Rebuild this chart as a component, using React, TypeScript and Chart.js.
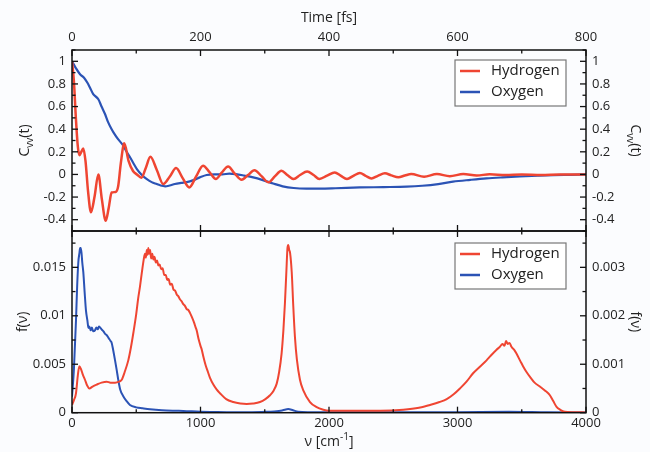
import React, { useEffect, useRef } from 'react';
import { Chart, registerables } from 'chart.js';
Chart.register(...registerables);

// ---------- axis ticks ----------
const TIME_TICKS = [0, 200, 400, 600, 800];
const TIME_LABELS = ['0', '200', '400', '600', '800'];
const TIME_MINOR = [0, 100, 200, 300, 400, 500, 600, 700, 800];
const CVV_TICKS = [-0.4, -0.2, 0, 0.2, 0.4, 0.6, 0.8, 1];
const CVV_LABELS = ['-0.4', '-0.2', '0', '0.2', '0.4', '0.6', '0.8', '1'];
const CVV_MINOR = [-0.5, -0.4, -0.3, -0.2, -0.1, 0, 0.1, 0.2, 0.3, 0.4, 0.5, 0.6, 0.7, 0.8, 0.9, 1.0, 1.1];
const NU_TICKS = [0, 1000, 2000, 3000, 4000];
const NU_LABELS = ['0', '1000', '2000', '3000', '4000'];
const NU_MINOR = [0, 500, 1000, 1500, 2000, 2500, 3000, 3500, 4000];
const FH_TICKS = [0, 0.005, 0.01, 0.015];
const FH_LABELS = ['0', '0.005', '0.01', '0.015'];
const FH_MINOR = [0, 0.0025, 0.005, 0.0075, 0.01, 0.0125, 0.015, 0.0175];
const FO_TICKS = [0, 0.001, 0.002, 0.003];
const FO_LABELS = ['0', '0.001', '0.002', '0.003'];
const FO_MINOR = [0, 0.0005, 0.001, 0.0015, 0.002, 0.0025, 0.003, 0.0035];

const SERIES = ['Hydrogen', 'Oxygen'];

// ---------- velocity autocorrelation (top) ----------
const H_T = [0, 3, 6, 9, 11.5, 14.5, 17.5, 21, 25, 29.5, 35, 41, 46.5, 52.5, 57, 61.7, 68, 72, 76, 81.4, 88, 95, 101, 108, 115, 122, 132, 142, 152, 162, 172, 182.5, 193, 204, 214, 224, 233, 243, 253, 264, 274, 284, 295, 306, 316, 326, 335, 345, 355, 366, 376, 385, 397, 409, 418, 428, 438, 448, 457, 466, 476, 487, 497, 508, 518, 528, 548, 568, 588, 609, 630, 650, 675, 700, 730, 760, 800];
const H_C = [1.0, 0.82, 0.5, 0.25, 0.17, 0.2, 0.23, 0.12, -0.15, -0.335, -0.2, 0.0, -0.22, -0.41, -0.3, -0.16, -0.155, -0.1, 0.1, 0.275, 0.12, 0.03, 0.0, -0.03, 0.06, 0.156, 0.04, -0.085, -0.02, 0.056, -0.03, -0.115, -0.02, 0.077, 0.02, -0.04, 0.015, 0.07, 0.01, -0.047, -0.005, 0.038, -0.015, -0.07, -0.015, 0.033, -0.005, -0.04, -0.005, 0.026, -0.005, -0.04, -0.01, 0.018, -0.01, -0.04, -0.012, 0.012, -0.012, -0.035, -0.012, 0.01, -0.008, -0.025, -0.01, 0.003, -0.02, 0.003, -0.015, 0.003, -0.01, 0.002, -0.006, 0.0, -0.004, 0.0, 0.0];
const O_T = [0, 6, 12.5, 18.7, 24, 28, 33, 41, 46, 51.7, 56, 61.7, 67, 72, 80, 85, 90.5, 96, 101, 108, 116, 124, 132, 138, 145, 152, 160, 170, 178.5, 189, 199, 209.6, 222, 234, 245, 255, 268, 282, 297, 313, 328, 345, 365, 386, 410, 448, 485, 521, 545, 570, 593, 620, 645, 670, 697, 725, 749, 775, 800];
const O_C = [1.0, 0.94, 0.885, 0.855, 0.81, 0.767, 0.71, 0.665, 0.6, 0.53, 0.465, 0.4, 0.35, 0.31, 0.253, 0.2, 0.15, 0.095, 0.048, 0.0, -0.04, -0.068, -0.085, -0.098, -0.105, -0.098, -0.085, -0.075, -0.068, -0.05, -0.026, -0.005, 0.0, 0.0, 0.008, 0.003, -0.01, -0.026, -0.05, -0.08, -0.105, -0.12, -0.125, -0.125, -0.122, -0.115, -0.112, -0.108, -0.1, -0.085, -0.064, -0.048, -0.035, -0.026, -0.018, -0.011, -0.006, -0.003, 0.0];

// ---------- vibrational spectra (bottom) ----------
const H_NU = [0, 15, 31, 45, 57, 70, 85, 101, 118, 135, 160, 192, 230, 270, 300, 335, 365, 387, 410, 438, 458, 477, 500, 515, 529, 545, 558, 568, 575, 582, 588, 594, 600, 608, 616, 625, 633, 642, 652, 662, 672, 682, 694, 705, 718, 730, 741, 752, 764, 776, 790, 802, 815, 828, 840, 853, 866, 880, 892, 905, 918, 935, 950, 962, 970, 985, 1000, 1010, 1022, 1040, 1058, 1074, 1100, 1125, 1152, 1200, 1255, 1310, 1359, 1410, 1463, 1505, 1541, 1570, 1593, 1612, 1631, 1645, 1657, 1668, 1677, 1683, 1690, 1697, 1710, 1722, 1735, 1750, 1774, 1800, 1852, 1900, 1956, 2000, 2200, 2400, 2578, 2700, 2786, 2860, 2916, 2970, 3019, 3070, 3123, 3170, 3226, 3260, 3304, 3330, 3350, 3365, 3378, 3390, 3405, 3420, 3440, 3459, 3490, 3510, 3537, 3570, 3600, 3641, 3680, 3719, 3745, 3771, 3800, 3835, 3900, 4000];
const H_F = [0.0008, 0.0013, 0.002, 0.0038, 0.0048, 0.0045, 0.0039, 0.0034, 0.0028, 0.0025, 0.0027, 0.0029, 0.0031, 0.0032, 0.0031, 0.0031, 0.0032, 0.0034, 0.0042, 0.0054, 0.0067, 0.0082, 0.0102, 0.0118, 0.013, 0.0146, 0.0158, 0.0164, 0.016, 0.0168, 0.0163, 0.017, 0.0164, 0.0168, 0.0159, 0.0164, 0.0158, 0.0161, 0.0155, 0.0157, 0.0152, 0.0153, 0.0148, 0.0149, 0.0142, 0.0142, 0.0137, 0.0138, 0.0132, 0.0133, 0.0127, 0.0126, 0.0122, 0.012, 0.0117, 0.0115, 0.0112, 0.011, 0.0107, 0.0106, 0.0103, 0.0098, 0.0093, 0.0088, 0.0085, 0.0076, 0.0069, 0.0065, 0.0058, 0.0049, 0.0042, 0.0036, 0.0029, 0.0024, 0.002, 0.0014, 0.0011, 0.00095, 0.0009, 0.00095, 0.0011, 0.0014, 0.0018, 0.0023, 0.003, 0.0042, 0.0061, 0.0085, 0.0113, 0.0145, 0.017, 0.0173, 0.0168, 0.0165, 0.0145, 0.011, 0.0078, 0.0055, 0.0034, 0.0023, 0.0011, 0.0006, 0.0003, 0.0002, 0.0002, 0.0002, 0.0003, 0.0005, 0.0008, 0.0011, 0.0014, 0.0019, 0.0025, 0.0032, 0.0041, 0.0047, 0.0054, 0.0059, 0.0065, 0.0068, 0.0071, 0.0069, 0.0074, 0.0071, 0.0072, 0.0068, 0.0065, 0.0061, 0.0053, 0.0048, 0.0042, 0.0036, 0.0031, 0.0027, 0.0023, 0.0018, 0.0012, 0.0006, 0.0003, 0.0001, 0.00005, 0.00003];
const O_NU = [0, 15, 31, 40, 49, 58, 63, 68, 74, 80, 88, 98, 109, 120, 128, 135, 145, 155, 165, 179, 190, 200, 210, 218, 230, 245, 260, 270, 285, 300, 309, 320, 335, 348, 360, 375, 399, 425, 451, 500, 550, 607, 700, 800, 866, 1000, 1100, 1255, 1400, 1530, 1593, 1640, 1683, 1720, 1760, 1850, 2000, 2500, 3000, 3400, 3700, 4000];
const O_F = [0.00033, 0.0009, 0.0019, 0.0026, 0.0031, 0.0033, 0.0034, 0.0034, 0.0033, 0.0031, 0.0029, 0.0025, 0.0021, 0.0019, 0.00175, 0.00178, 0.0017, 0.00176, 0.00168, 0.0017, 0.00176, 0.00172, 0.00178, 0.00176, 0.00172, 0.00168, 0.00162, 0.0016, 0.00154, 0.00148, 0.00144, 0.0013, 0.00108, 0.00088, 0.00068, 0.00048, 0.00034, 0.00024, 0.00016, 0.00011, 0.00009, 0.00007, 0.00005, 0.00004, 0.000036, 0.00002, 0.000015, 0.00001, 0.00001, 0.00002, 0.000028, 0.00005, 0.000076, 0.00005, 0.00002, 0.00001, 0.000008, 0.000008, 0.00001, 0.00002, 0.00001, 0.000005];

const RED = '#ef4532';
const BLUE = '#2b53b5';
const FONT = "'Open Sans', 'DejaVu Sans', sans-serif";
const TEXT = '#222';

type Part = { t: string; s?: 'sub' | 'sup' };

function drawRich(ctx: CanvasRenderingContext2D, parts: Part[], x: number, y: number, rot: number, size: number) {
  ctx.save();
  ctx.translate(x, y);
  ctx.rotate(rot);
  ctx.fillStyle = TEXT;
  ctx.textBaseline = 'alphabetic';
  ctx.textAlign = 'left';
  const widths = parts.map((p) => {
    ctx.font = `${p.s ? Math.round(size * 0.7) : size}px ${FONT}`;
    return ctx.measureText(p.t).width;
  });
  const total = widths.reduce((a, b) => a + b, 0);
  let cx = -total / 2;
  parts.forEach((p, i) => {
    ctx.font = `${p.s ? Math.round(size * 0.7) : size}px ${FONT}`;
    const dy = p.s === 'sub' ? size * 0.3 : p.s === 'sup' ? -size * 0.4 : 0;
    ctx.fillText(p.t, cx, dy + size * 0.35);
    cx += widths[i];
  });
  ctx.restore();
}

const framePlugin = {
  id: 'frame',
  afterDraw(chart: any, _args: any, opts: any) {
    const { ctx, chartArea: a } = chart;
    ctx.save();
    ctx.strokeStyle = '#111';
    ctx.lineWidth = 1.3;
    (opts.marks || []).forEach((m: any) => {
      const sc = chart.scales[m.scale];
      m.values.forEach((v: number) => {
        const major = m.majors.some((q: number) => Math.abs(q - v) < 1e-9);
        const len = major ? 6 : 3.5;
        const p = sc.getPixelForValue(v);
        ctx.beginPath();
        if (m.edge === 'top') { ctx.moveTo(p, a.top); ctx.lineTo(p, a.top + len); }
        if (m.edge === 'bottom') { ctx.moveTo(p, a.bottom); ctx.lineTo(p, a.bottom - len); }
        if (m.edge === 'left') { ctx.moveTo(a.left, p); ctx.lineTo(a.left + len, p); }
        if (m.edge === 'right') { ctx.moveTo(a.right, p); ctx.lineTo(a.right - len, p); }
        ctx.stroke();
      });
    });
    ctx.lineWidth = 1.5;
    ctx.strokeRect(a.left, a.top, a.right - a.left, a.bottom - a.top);
    (opts.titles || []).forEach((t: any) => {
      drawRich(ctx, t.parts, t.x, t.y === 'mid' ? (a.top + a.bottom) / 2 : t.y, t.rot, t.size);
    });
    if (opts.legend) {
      const L = opts.legend;
      ctx.fillStyle = '#fff';
      ctx.fillRect(L.x, L.y, L.w, L.h);
      ctx.strokeStyle = '#777';
      ctx.lineWidth = 1.2;
      ctx.strokeRect(L.x, L.y, L.w, L.h);
      chart.data.datasets.forEach((ds: any, i: number) => {
        const yy = L.y + 11 + i * 21;
        ctx.strokeStyle = ds.borderColor;
        ctx.lineWidth = 2.5;
        ctx.beginPath();
        ctx.moveTo(L.x + 5, yy);
        ctx.lineTo(L.x + 25, yy);
        ctx.stroke();
        ctx.fillStyle = TEXT;
        ctx.font = `15px ${FONT}`;
        ctx.textBaseline = 'middle';
        ctx.textAlign = 'left';
        ctx.fillText(ds.label, L.x + 36, yy);
      });
    }
    ctx.restore();
  },
};

function pts(xs: number[], ys: number[]) {
  return xs.map((x, i) => ({ x, y: ys[i] }));
}

function setTicks(values: number[]) {
  return (s: any) => { s.ticks = values.map((v) => ({ value: v })); };
}
function fitV(w: number) {
  return (s: any) => { s.width = w; s.paddingTop = 0; s.paddingBottom = 0; };
}
function fitH(h: number) {
  return (s: any) => { s.height = h; s.paddingLeft = 0; s.paddingRight = 0; };
}
function labelFrom(values: number[], labels: string[]) {
  return (v: any) => {
    const i = values.findIndex((q) => Math.abs(q - v) < 1e-12);
    return i >= 0 ? labels[i] : '';
  };
}

const tickFont = { size: 13, family: FONT };

export default function App() {
  const topRef = useRef<HTMLCanvasElement>(null);
  const botRef = useRef<HTMLCanvasElement>(null);

  useEffect(() => {
    const top = new Chart(topRef.current as HTMLCanvasElement, {
      type: 'line',
      data: {
        datasets: [
          { label: SERIES[0], data: pts(H_T, H_C), borderColor: RED, borderWidth: 2.5, pointRadius: 0, cubicInterpolationMode: 'monotone', xAxisID: 'x', yAxisID: 'y' },
          { label: SERIES[1], data: pts(O_T, O_C), borderColor: BLUE, borderWidth: 2.2, pointRadius: 0, cubicInterpolationMode: 'monotone', xAxisID: 'x', yAxisID: 'y' },
        ],
      },
      options: {
        animation: false,
        responsive: false,
        layout: { padding: { left: 0, right: 0, top: 0, bottom: 1 } },
        plugins: {
          legend: { display: false },
          tooltip: { enabled: false },
          frame: {
            marks: [
              { scale: 'x', edge: 'top', values: TIME_MINOR, majors: TIME_TICKS },
              { scale: 'x', edge: 'bottom', values: TIME_MINOR, majors: TIME_TICKS },
              { scale: 'y', edge: 'left', values: CVV_MINOR, majors: CVV_TICKS },
              { scale: 'y2', edge: 'right', values: CVV_MINOR, majors: CVV_TICKS },
            ],
            titles: [
              { parts: [{ t: 'C' }, { t: 'vv', s: 'sub' }, { t: '(t)' }], x: 24, y: 'mid', rot: -Math.PI / 2, size: 14 },
              { parts: [{ t: 'C' }, { t: 'vv', s: 'sub' }, { t: '(t)' }], x: 636, y: 'mid', rot: Math.PI / 2, size: 14 },
            ],
            legend: { x: 455, y: 60, w: 111, h: 46 },
          },
        } as any,
        scales: {
          x: {
            type: 'linear', position: 'top', min: 0, max: 800,
            afterBuildTicks: setTicks(TIME_TICKS),
            afterFit: fitH(50),
            grid: { display: false, drawTicks: false }, border: { display: false },
            ticks: { font: tickFont, color: TEXT, padding: 5, maxRotation: 0, callback: labelFrom(TIME_TICKS, TIME_LABELS) },
            title: { display: true, text: 'Time [fs]', font: { size: 14, family: FONT }, color: TEXT, padding: { top: 10, bottom: 0 } },
          },
          y: {
            type: 'linear', position: 'left', min: -0.5, max: 1.1,
            afterBuildTicks: setTicks(CVV_TICKS),
            afterFit: fitV(72),
            grid: { display: false, drawTicks: false }, border: { display: false },
            ticks: { font: tickFont, color: TEXT, padding: 6, callback: labelFrom(CVV_TICKS, CVV_LABELS) },
          },
          y2: {
            type: 'linear', position: 'right', min: -0.5, max: 1.1,
            afterBuildTicks: setTicks(CVV_TICKS),
            afterFit: fitV(64),
            grid: { display: false, drawTicks: false }, border: { display: false },
            ticks: { font: tickFont, color: TEXT, padding: 6, callback: labelFrom(CVV_TICKS, CVV_LABELS) },
          },
        },
      } as any,
      plugins: [framePlugin],
    });

    const bot = new Chart(botRef.current as HTMLCanvasElement, {
      type: 'line',
      data: {
        datasets: [
          { label: SERIES[0], data: pts(H_NU, H_F), borderColor: RED, borderWidth: 2, pointRadius: 0, cubicInterpolationMode: 'monotone', xAxisID: 'x', yAxisID: 'y' },
          { label: SERIES[1], data: pts(O_NU, O_F), borderColor: BLUE, borderWidth: 2, pointRadius: 0, cubicInterpolationMode: 'monotone', xAxisID: 'x', yAxisID: 'y2' },
        ],
      },
      options: {
        animation: false,
        responsive: false,
        layout: { padding: { left: 0, right: 0, top: 1, bottom: 0 } },
        plugins: {
          legend: { display: false },
          tooltip: { enabled: false },
          frame: {
            marks: [
              { scale: 'x', edge: 'top', values: NU_MINOR, majors: NU_TICKS },
              { scale: 'x', edge: 'bottom', values: NU_MINOR, majors: NU_TICKS },
              { scale: 'y', edge: 'left', values: FH_MINOR, majors: FH_TICKS },
              { scale: 'y2', edge: 'right', values: FO_MINOR, majors: FO_TICKS },
            ],
            titles: [
              { parts: [{ t: 'f(ν)' }], x: 22, y: 'mid', rot: -Math.PI / 2, size: 14 },
              { parts: [{ t: 'f(ν)' }], x: 636, y: 'mid', rot: Math.PI / 2, size: 14 },
              { parts: [{ t: 'ν [cm' }, { t: '-1', s: 'sup' }, { t: ']' }], x: 329, y: 211, rot: 0, size: 14 },
            ],
            legend: { x: 455, y: 13, w: 111, h: 46 },
          },
        } as any,
        scales: {
          x: {
            type: 'linear', position: 'bottom', min: 0, max: 4000,
            afterBuildTicks: setTicks(NU_TICKS),
            afterFit: fitH(39.3),
            grid: { display: false, drawTicks: false }, border: { display: false },
            ticks: { font: tickFont, color: TEXT, padding: 3, maxRotation: 0, callback: labelFrom(NU_TICKS, NU_LABELS) },
          },
          y: {
            type: 'linear', position: 'left', min: 0, max: 0.01875,
            afterBuildTicks: setTicks(FH_TICKS),
            afterFit: fitV(72),
            grid: { display: false, drawTicks: false }, border: { display: false },
            ticks: { font: tickFont, color: TEXT, padding: 6, callback: labelFrom(FH_TICKS, FH_LABELS) },
          },
          y2: {
            type: 'linear', position: 'right', min: 0, max: 0.00375,
            afterBuildTicks: setTicks(FO_TICKS),
            afterFit: fitV(64),
            grid: { display: false, drawTicks: false }, border: { display: false },
            ticks: { font: tickFont, color: TEXT, padding: 6, callback: labelFrom(FO_TICKS, FO_LABELS) },
          },
        },
      } as any,
      plugins: [framePlugin],
    });

    return () => { top.destroy(); bot.destroy(); };
  }, []);

  return (
    <div style={{ position: 'absolute', left: 0, top: 0, width: 650, height: 452, background: '#fbfcfe' }}>
      <canvas ref={topRef} width={650} height={232} style={{ position: 'absolute', left: 0, top: 0, width: 650, height: 232 }} />
      <canvas ref={botRef} width={650} height={222} style={{ position: 'absolute', left: 0, top: 230, width: 650, height: 222 }} />
    </div>
  );
}
